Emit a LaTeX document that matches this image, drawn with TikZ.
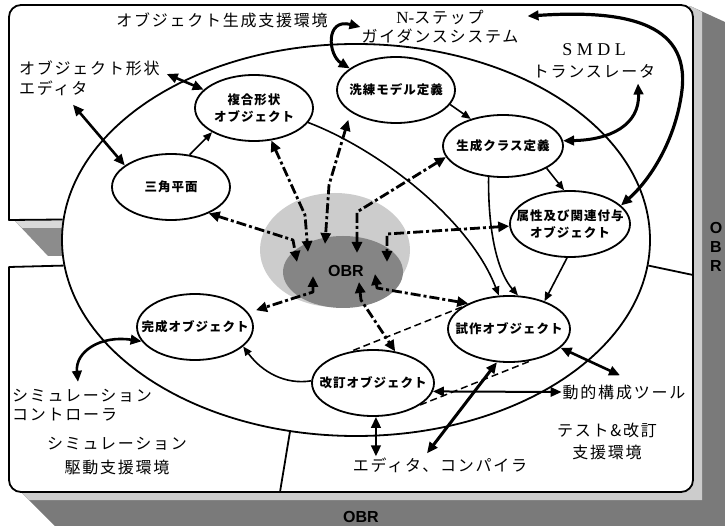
\documentclass[tikz,border=0pt]{standalone}
\usepackage{fontspec}
\usetikzlibrary{shapes.geometric,arrows.meta,calc}
\newfontfamily\jpw[LetterSpace=11]{Noto Sans CJK JP}
\newfontfamily\jpn[LetterSpace=8]{Noto Sans CJK JP}
\newfontfamily\latn{Liberation Serif}
\newfontfamily\latw[LetterSpace=25]{Liberation Serif}
\newfontfamily\sanslab{Liberation Sans}
\begin{document}
\begin{tikzpicture}[x=1pt,y=1pt, line join=round,
  ell/.style={draw, ellipse, line width=1.8pt, fill=white, inner sep=0pt},
  nt/.style={inner sep=0pt, align=center, font=\jpn\bfseries\fontsize{12.5}{17.5}\selectfont},
  lab/.style={inner sep=1pt, align=center, font=\jpw\fontsize{16}{20}\selectfont},
  thinarr/.style={line width=1.6pt, -{Triangle[length=9pt,width=7.5pt]}},
  dbl/.style={line width=2.6pt, {Triangle[length=11pt,width=9.5pt]}-{Triangle[length=11pt,width=9.5pt]}},
  dd/.style={line width=2.8pt, dash pattern=on 10pt off 3pt on 3pt off 3pt, {Triangle[length=11pt,width=10pt]}-{Triangle[length=11pt,width=10pt]}},
  dsh/.style={line width=1.5pt, dash pattern=on 7pt off 4pt},
  obrlab/.style={inner sep=0pt, align=center, font=\sanslab\bfseries\fontsize{16}{19}\selectfont}
]
\useasboundingbox (0,0) rectangle (725,-526);

% shadow of the panels
\fill[black!52] (690,-6) -- (725,-22) -- (725,-526) -- (55,-526) -- (21,-492) -- cycle;
\fill[black!20] (690,-6) -- (702,-12) -- (702,-500) -- (29,-500) -- (21,-492) -- cycle;
\fill[white, rounded corners=12] (9,-5) rectangle (693,-492);
% left gap between panels
\fill[black!45] (14,-220) -- (75,-220) -- (75,-256) -- (48,-256) -- cycle;
\fill[black!15] (14,-220) -- (75,-220) -- (75,-228) -- (22,-228) -- cycle;

% big ellipse
\node[ell, minimum width=588, minimum height=392] (env) at (356,-240) {};

% panel outlines
\draw[line width=1.8pt] (env.176) -- (9,-220) -- (9,-17) arc[start angle=180,end angle=90,radius=12]
  -- (681,-5) arc[start angle=90,end angle=0,radius=12]
  -- (693,-480) arc[start angle=0,end angle=-90,radius=12]
  -- (21,-492) arc[start angle=270,end angle=180,radius=12]
  -- (9,-267) -- (env.185);
\draw[line width=1.8pt] (env.-5) -- (693,-275);
\draw[line width=1.8pt] (env.251) -- (280,-492);

% OBR blob
\node[ellipse, fill=black!20, minimum width=150, minimum height=114, inner sep=0pt] (obrO) at (335,-250) {};
\node[ellipse, fill=black!48, minimum width=120, minimum height=72, inner sep=0pt] (obrI) at (343,-272) {};
\node[obrlab] (obrT) at (346,-271) {OBR};

% nodes
\node[ell, minimum width=118, minimum height=66] (tri) at (171,-187) {};
\node[nt] (triT) at (tri) {三角平面};
\node[ell, minimum width=118, minimum height=66] (comp) at (254,-108) {};
\node[nt] (compT) at (comp) {複合形状\\オブジェクト};
\node[ell, minimum width=118, minimum height=66] (ref) at (396,-90) {};
\node[nt] (refT) at (ref) {洗練モデル定義};
\node[ell, minimum width=120, minimum height=62] (gen) at (503,-146) {};
\node[nt] (genT) at (gen) {生成クラス定義};
\node[ell, minimum width=120, minimum height=66] (attr) at (570,-224) {};
\node[nt] (attrT) at (attr) {属性及び関連付与\\オブジェクト};
\node[ell, minimum width=116, minimum height=66] (done) at (195,-327) {};
\node[nt] (doneT) at (done) {完成オブジェクト};
\node[ell, minimum width=122, minimum height=66] (rev) at (373,-383) {};
\node[nt] (revT) at (rev) {改訂オブジェクト};
\node[ell, minimum width=122, minimum height=66] (proto) at (509,-329) {};
\node[nt] (protoT) at (proto) {試作オブジェクト};

% outside labels
\node[lab] (envgen) at (222,-20) {オブジェクト生成支援環境};
\node[lab, font=\jpw\fontsize{16}{19}\selectfont] (nstep) at (440,-27) {{\latn\fontsize{17}{19}\selectfont N-}ステップ\\ガイダンスシステム};
\node[lab, font=\jpw\fontsize{16}{22}\selectfont] (smdl) at (594,-61) {{\latw\fontsize{18}{22}\selectfont SMDL}\\トランスレータ};
\node[lab, align=left, anchor=west] (shapeed) at (18,-78) {オブジェクト形状\\エディタ};
\node[lab, align=left, anchor=west, font=\jpw\fontsize{16}{19}\selectfont] (simctl) at (11,-405) {シミュレーション\\コントローラ};
\node[lab, font=\jpw\fontsize{16}{23.5}\selectfont] (simenv) at (117,-456) {シミュレーション\\駆動支援環境};
\node[lab] (dyn) at (624,-392) {動的構成ツール};
\node[lab, font=\jpw\fontsize{16}{22}\selectfont] (testenv) at (607,-441) {テスト\&改訂\\支援環境};
\node[lab] (edcomp) at (440,-465) {エディタ、コンパイラ};
\node[obrlab] (obrR) at (716,-247) {O\\B\\R};
\node[obrlab] (obrB) at (361,-517) {OBR};

% solid connectors
\draw[dbl, line width=3pt] (ref.155) .. controls (328,-55) and (325,-18) .. (nstep.west);
\draw[dbl, line width=3.2pt] ([shift={(8,-7)}]nstep.north east) .. controls (620,-10) and (690,-20) .. (682,-90)
   .. controls (676,-140) and (650,-180) .. (attr.20);
\draw[dbl, line width=3pt] (gen.5) .. controls (610,-140) and (640,-125) .. ([shift={(44,-4)}]smdl.south);
\draw[thinarr] (ref.-15) -- (gen.140);
\draw[thinarr] (gen.-27) -- (attr.100);
\draw[thinarr] (tri.60) -- (comp.210);
\draw[dbl] ([shift={(6,4)}]shapeed.east) -- (comp.160);
\draw[dbl] ([shift={(55,-8)}]shapeed.south west) -- (tri.155);
\draw[thinarr] (comp.-15) .. controls (380,-150) and (470,-220) .. (proto.107);
\draw[thinarr] (gen.-115) .. controls (488,-240) and (500,-275) .. (proto.75);
\draw[thinarr] (attr.-95) -- (proto.38);
\draw[thinarr] (rev.178) .. controls (285,-385) and (262,-372) .. (done.-22);
\draw[dbl] ([shift={(67,6)}]simctl.north west) .. controls (75,-352) and (100,-335) .. (done.195);
\draw[dbl, line width=2pt] (rev.-8) -- (dyn.west);
\draw[dbl] (proto.-20) -- ([shift={(-4,8)}]dyn.north);
\draw[dbl, line width=3pt] (proto.-110) -- ([shift={(-13,3)}]edcomp.north);
\draw[dbl] (rev.-85) -- (rev.-85 |- edcomp.north);
\draw[dsh] (rev.-25) -- (proto.-55);
\draw[dsh] (proto.155) -- (rev.125);

% dash-dot connectors to OBR
\coordinate (b1) at (293,-240); \coordinate (p1) at (297,-262);
\coordinate (b2) at (305,-215); \coordinate (p2) at (308,-252);
\coordinate (b3) at (329,-185); \coordinate (p3) at (325,-244);
\coordinate (b4) at (357,-212); \coordinate (p4) at (357,-253);
\coordinate (b5) at (387,-234); \coordinate (p5) at (387,-262);
\coordinate (q6) at (313,-276); \coordinate (c6) at (313,-292);
\coordinate (q7) at (359,-282); \coordinate (c7) at (361,-300);
\coordinate (q8) at (375,-274); \coordinate (c8) at (377,-288);
\draw[dd] (tri.-35) -- (b1) -- (p1);
\draw[dd] (comp.-62) -- (b2) -- (p2);
\draw[dd, shorten <=8pt] (ref.206) -- (b3) -- (p3);
\draw[dd] (gen.191) -- (b4) -- (p4);
\draw[dd] (attr.182) -- (b5) -- (p5);
\draw[dd, shorten >=8pt] (q6) -- (c6) -- (done.15);
\draw[dd] (q7) -- (c7) -- (rev.55);
\draw[dd] (q8) -- (c8) -- (proto.148);
\end{tikzpicture}
\end{document}
